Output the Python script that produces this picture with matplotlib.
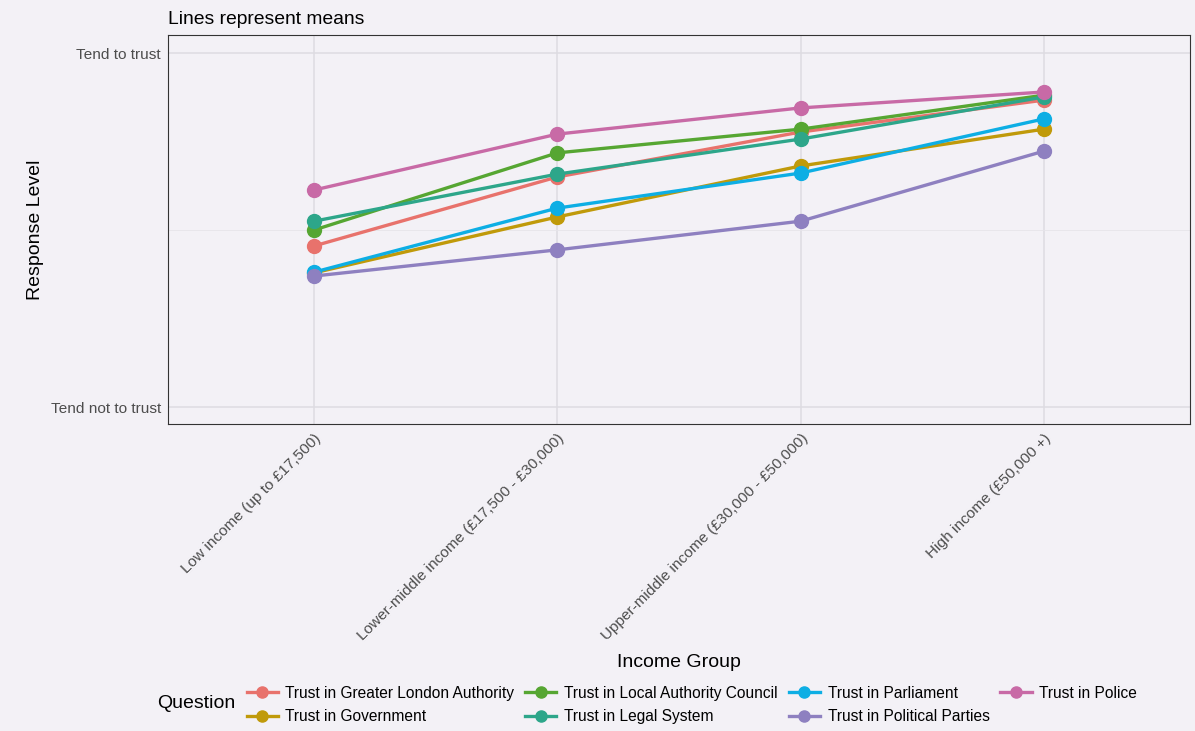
import matplotlib
matplotlib.use('Agg')
import matplotlib.pyplot as plt

plt.rcParams['font.family'] = ['Liberation Sans', 'DejaVu Sans']

# Income groups on the x axis
groups = ['Low income (up to £17,500)',
          'Lower-middle income (£17,500 - £30,000)',
          'Upper-middle income (£30,000 - £50,000)',
          'High income (£50,000 +)']

# Mean response per question (1 = tend not to trust, 2 = tend to trust)
gla = [1.455, 1.650, 1.777, 1.867]
government = [1.379, 1.537, 1.681, 1.785]
local_council = [1.500, 1.718, 1.785, 1.881]
legal_system = [1.525, 1.658, 1.757, 1.876]
parliament = [1.381, 1.562, 1.661, 1.814]
political_parties = [1.370, 1.444, 1.525, 1.723]
police = [1.613, 1.771, 1.845, 1.890]

series = [
    ('Trust in Greater London Authority', gla, '#E8726C'),
    ('Trust in Government', government, '#C09A0A'),
    ('Trust in Local Authority Council', local_council, '#56A632'),
    ('Trust in Legal System', legal_system, '#2DA68A'),
    ('Trust in Parliament', parliament, '#0DAEE4'),
    ('Trust in Political Parties', political_parties, '#8E80C0'),
    ('Trust in Police', police, '#C86AA6'),
]

y_ticks = [1, 2]
y_labels = ['Tend not to trust', 'Tend to trust']

bg = '#F3F1F6'
fig = plt.figure(figsize=(11.95, 7.31), dpi=100, facecolor=bg)
ax = fig.add_axes([168 / 1195, 1 - 424 / 731, (1190 - 168) / 1195, (424 - 35) / 731])
ax.set_facecolor(bg)

x = list(range(len(groups)))
for name, vals, col in series:
    ax.plot(x, vals, color=col, lw=2.4, marker='o', ms=10, label=name, zorder=3)

ax.set_xlim(-0.6, 3.6)
ax.set_ylim(0.952, 2.051)
ax.set_xticks(x)
ax.set_xticklabels(groups, rotation=45, ha='right', rotation_mode='anchor',
                   fontsize=11.1, color='#4D4D4D')
ax.set_yticks(y_ticks)
ax.set_yticklabels(y_labels, fontsize=11.1, color='#4D4D4D')
ax.set_yticks([1.5], minor=True)
ax.tick_params(axis='both', which='both', length=0, pad=5)

ax.grid(True, which='major', color='#DEDCE2', lw=1.1, zorder=0)
ax.grid(True, which='minor', axis='y', color='#E6E4EA', lw=0.6, zorder=0)
for s in ax.spines.values():
    s.set_color('#333333')
    s.set_linewidth(0.8)

ax.set_xlabel('Income Group', fontsize=14, labelpad=8)
ax.set_ylabel('Response Level', fontsize=14, labelpad=5)
ax.set_title('Lines represent means', fontsize=13.9, loc='left', pad=8)

leg = fig.legend(loc='center', bbox_to_anchor=(0.579, 0.0356), ncol=4, frameon=False,
                 fontsize=11.2, handlelength=2.0, handletextpad=0.5,
                 columnspacing=0.7, labelspacing=0.55, markerscale=0.8)
fig.text(157 / 1195, 1 - 703 / 731, 'Question', fontsize=14, va='center', ha='left')

fig.savefig('out.png', dpi=100, facecolor=bg)
